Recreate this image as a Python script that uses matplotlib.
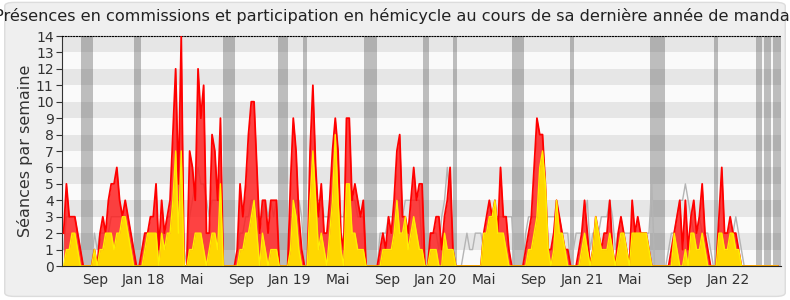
import matplotlib
matplotlib.use('Agg')
import matplotlib.pyplot as plt
import matplotlib.dates as mdates
from matplotlib.patches import FancyBboxPatch
import pandas as pd

# weekly values, first week starting 2017-06-29
first_week = '2017-06-29'

presences = [
    2, 5, 3, 3, 3, 2, 1, 0, 0, 0,
    0, 1, 0, 2, 3, 2, 4, 5, 5, 6,
    4, 3, 4, 3, 2, 1, 0, 0, 1, 2,
    2, 3, 3, 5, 1, 4, 2, 3, 4, 8,
    12, 5, 14, 0, 0, 7, 6, 4, 12, 9,
    11, 2, 2, 8, 7, 4, 9, 0, 0, 0,
    0, 0, 1, 5, 3, 5, 8, 10, 10, 6,
    2, 4, 4, 2, 4, 4, 4, 0, 0, 0,
    0, 5, 9, 7, 3, 1, 0, 0, 7, 11,
    6, 3, 5, 2, 2, 4, 7, 9, 7, 2,
    1, 9, 9, 4, 5, 4, 3, 4, 0, 0,
    0, 0, 0, 1, 2, 1, 3, 2, 4, 7,
    8, 3, 3, 2, 4, 6, 4, 5, 5, 0,
    0, 2, 2, 3, 3, 1, 3, 4, 6, 1,
    0, 0, 0, 0, 0, 0, 0, 0, 0, 0,
    2, 3, 4, 3, 4, 2, 6, 3, 3, 1,
    0, 0, 0, 0, 0, 1, 2, 3, 6, 9,
    8, 8, 5, 1, 1, 2, 4, 3, 2, 1,
    1, 0, 0, 0, 1, 2, 4, 2, 0, 1,
    3, 2, 1, 2, 2, 4, 1, 0, 2, 3,
    2, 1, 0, 4, 2, 3, 2, 2, 2, 1,
    0, 0, 0, 0, 0, 0, 0, 1, 2, 3,
    4, 1, 4, 1, 3, 4, 2, 3, 5, 2,
    1, 0, 0, 0, 3, 6, 2, 2, 3, 2,
    2, 1, 0, 0, 0, 0, 0, 0, 0, 0,
    0, 0, 0, 0, 0, 0,
]

commissions = [
    0, 1, 1, 2, 2, 1, 0, 0, 0, 0,
    0, 1, 0, 1, 1, 2, 2, 2, 1, 2,
    2, 3, 3, 2, 1, 0, 0, 0, 0, 1,
    2, 2, 2, 2, 0, 2, 1, 2, 2, 4,
    7, 2, 7, 0, 0, 1, 1, 2, 2, 2,
    1, 0, 1, 2, 2, 1, 5, 0, 0, 0,
    0, 0, 0, 1, 1, 2, 2, 3, 4, 2,
    0, 2, 1, 0, 1, 1, 1, 0, 0, 0,
    0, 1, 4, 3, 1, 0, 0, 0, 4, 7,
    4, 1, 2, 1, 0, 2, 4, 8, 4, 1,
    0, 5, 5, 2, 2, 1, 1, 1, 0, 0,
    0, 0, 0, 0, 1, 1, 1, 1, 2, 4,
    2, 2, 3, 1, 2, 3, 2, 1, 1, 0,
    0, 1, 1, 1, 0, 0, 2, 1, 1, 1,
    0, 0, 0, 0, 0, 0, 0, 0, 0, 0,
    2, 2, 3, 3, 4, 2, 2, 2, 1, 0,
    0, 0, 0, 0, 0, 0, 1, 1, 2, 3,
    6, 7, 5, 1, 0, 1, 4, 2, 2, 1,
    0, 0, 0, 0, 0, 1, 2, 1, 0, 1,
    3, 2, 1, 1, 1, 2, 1, 0, 1, 2,
    2, 1, 0, 2, 2, 2, 2, 2, 2, 1,
    0, 0, 0, 0, 0, 0, 0, 0, 2, 1,
    0, 0, 1, 0, 2, 2, 1, 1, 2, 1,
    0, 0, 0, 0, 2, 2, 1, 1, 2, 2,
    1, 1, 0, 0, 0, 0, 0, 0, 0, 0,
    0, 0, 0, 0, 0, 0,
]

mediane = [
    1, 3, 3, 3, 3, 2, 1, 0, 0, 0,
    0, 2, 1, 2, 2, 2, 2, 3, 3, 3,
    3, 3, 3, 2, 2, 1, 0, 0, 1, 2,
    2, 2, 2, 2, 2, 2, 2, 3, 3, 4,
    4, 4, 4, 0, 1, 3, 4, 5, 6, 5,
    5, 4, 3, 4, 4, 4, 4, 0, 0, 0,
    0, 0, 1, 2, 2, 3, 3, 4, 4, 3,
    3, 3, 4, 3, 4, 3, 4, 0, 0, 0,
    0, 3, 3, 4, 4, 3, 0, 0, 3, 4,
    4, 4, 4, 3, 3, 3, 4, 5, 4, 3,
    3, 4, 4, 4, 4, 3, 3, 3, 0, 0,
    0, 0, 0, 2, 2, 2, 3, 3, 3, 4,
    4, 3, 4, 4, 4, 4, 4, 4, 1, 0,
    0, 2, 2, 2, 1, 3, 4, 6, 4, 2,
    0, 0, 0, 1, 2, 1, 1, 2, 2, 2,
    1, 2, 3, 3, 3, 3, 3, 3, 3, 3,
    3, 0, 0, 0, 0, 2, 3, 3, 3, 3,
    3, 3, 3, 3, 3, 3, 3, 3, 2, 2,
    2, 0, 1, 2, 2, 2, 3, 4, 1, 2,
    2, 2, 3, 3, 3, 4, 3, 1, 2, 2,
    2, 2, 2, 2, 2, 2, 2, 2, 2, 2,
    5, 0, 0, 0, 0, 0, 1, 2, 2, 3,
    4, 4, 5, 4, 3, 2, 2, 3, 2, 2,
    2, 1, 0, 0, 1, 2, 2, 2, 2, 2,
    3, 2, 1, 0, 0, 0, 0, 0, 0, 0,
    0, 0, 0, 0, 0, 0,
]

# weeks without sessions (grey columns)
vacances = [
    ('2017-08-11', '2017-09-10'), ('2017-12-22', '2018-01-08'),
    ('2018-08-01', '2018-08-31'), ('2018-12-17', '2019-01-11'),
    ('2019-02-17', '2019-02-27'), ('2019-07-19', '2019-08-21'),
    ('2019-12-14', '2019-12-29'), ('2020-02-27', '2020-03-08'),
    ('2020-07-24', '2020-08-23'), ('2020-12-16', '2020-12-26'),
    ('2021-07-04', '2021-08-10'), ('2021-12-11', '2021-12-21'),
    ('2022-03-26', '2022-04-10'), ('2022-04-15', '2022-05-02'),
    ('2022-05-07', '2022-05-27'),
]

mois = {1: 'Jan', 5: 'Mai', 9: 'Sep'}
tick_dates = pd.date_range('2017-09-01', '2022-01-01', freq='4MS') + pd.Timedelta(days=14)
tick_labels = [mois[d.month] + (' %02d' % (d.year % 100) if d.month == 1 else '') for d in tick_dates]

weeks = pd.date_range(first_week, periods=len(presences), freq='7D')

fig = plt.figure(figsize=(7.9, 3.0), dpi=100, facecolor='white')
fig.patches.append(FancyBboxPatch((0.006, 0.012), 0.988, 0.98, boxstyle='round,pad=0,rounding_size=0.012',
                                  transform=fig.transFigure, facecolor='#efefef', edgecolor='#dcdcdc',
                                  lw=1, zorder=-10))
ax = fig.add_axes([0.0785, 0.1133, 0.9101, 0.7667])
ax.set_facecolor('#fafafa')

for k in range(14):
    if k % 2 == 1:
        ax.axhspan(k, k + 1, color='#e6e6e6', lw=0, zorder=0)

for d0, d1 in vacances:
    ax.axvspan(pd.Timestamp(d0), pd.Timestamp(d1), color='#333333', alpha=0.3, lw=0, zorder=1)

ax.plot(weeks, mediane, color='#b4b4b4', lw=1, zorder=2)
ax.fill_between(weeks, presences, 0, color='#ff1a1a', alpha=0.82, lw=0, zorder=3)
ax.plot(weeks, presences, color='#ff0000', lw=1.3, zorder=4)
ax.fill_between(weeks, commissions, 0, color='#ffd700', lw=0, zorder=5)
ax.plot(weeks, commissions, color='#ffee00', lw=1, zorder=6)

ax.set_xlim(pd.Timestamp('2017-06-25'), pd.Timestamp('2022-05-27'))
ax.set_ylim(0, 14)
ax.set_yticks(range(15))
ax.set_xticks(tick_dates)
ax.set_xticklabels(tick_labels)
ax.tick_params(axis='x', length=0, pad=5, labelsize=10, colors='#333333')
ax.tick_params(axis='y', length=4, pad=2, labelsize=10, colors='#333333')
ax.set_ylabel('Séances par semaine', fontsize=11.5, color='#333333', labelpad=2)

ax.spines['right'].set_visible(False)
ax.spines['top'].set_linestyle((0, (1, 1.5)))
ax.spines['top'].set_color('black')
ax.spines['left'].set_color('#333333')
ax.spines['bottom'].set_color('#222222')
ax.spines['bottom'].set_zorder(7)

fig.text(0.5, 0.945, 'Présences en commissions et participation en hémicycle au cours de sa dernière année de mandat',
         ha='center', va='center', fontsize=11.6, color='#222222')

fig.savefig('out.png', dpi=100, facecolor=fig.get_facecolor())
